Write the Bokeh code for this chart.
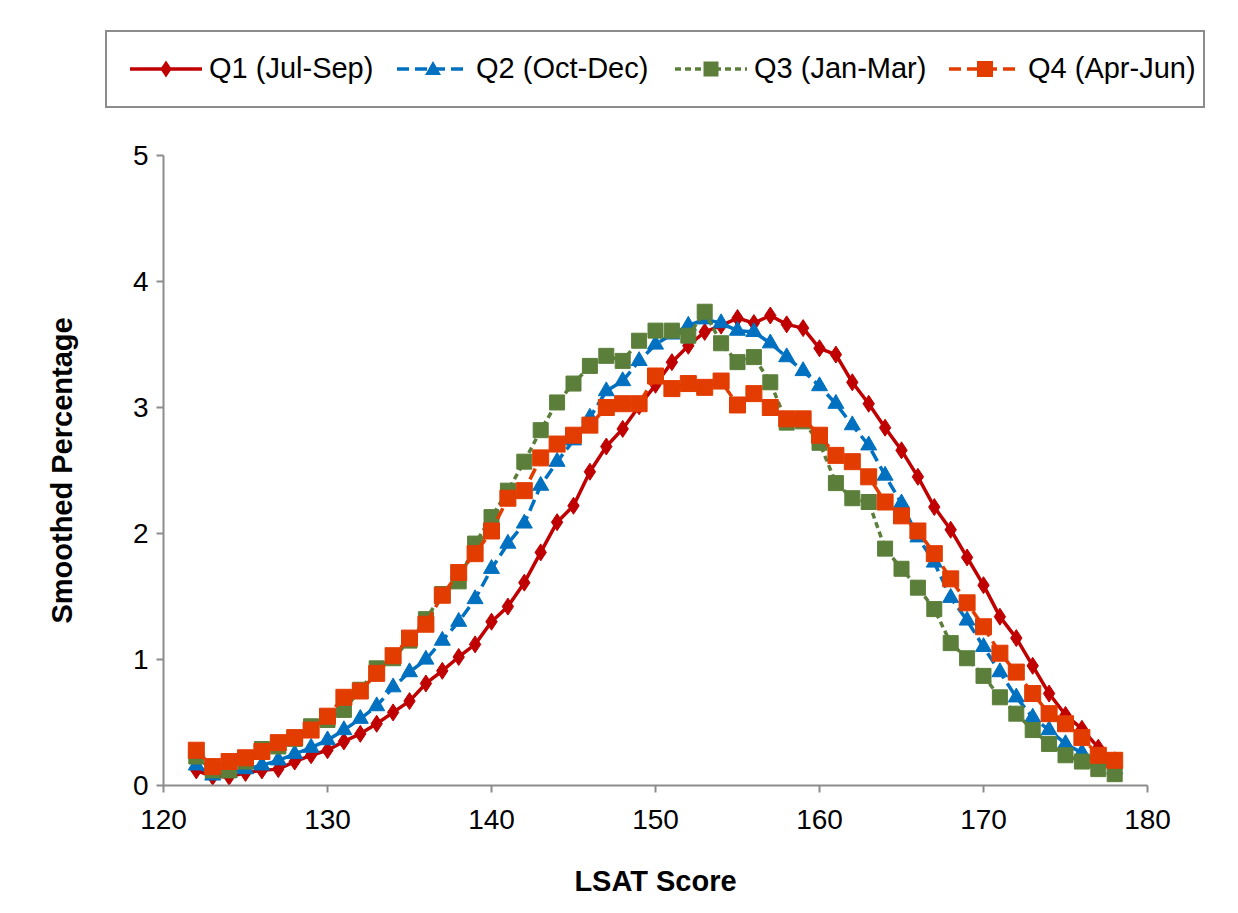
from bokeh.plotting import figure
from bokeh.layouts import column
from bokeh.models import Range1d, FixedTicker, Div
from bokeh.embed import file_html
from bokeh.resources import INLINE

scores = list(range(122, 179))

q1 = [0.12, 0.07, 0.07, 0.10, 0.12, 0.13, 0.19, 0.24, 0.28, 0.35, 0.41, 0.49, 0.58, 0.67, 0.81,
      0.91, 1.02, 1.12, 1.30, 1.42, 1.61, 1.85, 2.09, 2.22, 2.49, 2.69, 2.83, 3.01, 3.18,
      3.36, 3.49, 3.60, 3.65, 3.71, 3.67, 3.73, 3.66, 3.63, 3.47, 3.42, 3.20, 3.03, 2.84,
      2.66, 2.45, 2.21, 2.03, 1.81, 1.59, 1.34, 1.17, 0.95, 0.73, 0.56, 0.45, 0.30, 0.20]
q2 = [0.16, 0.08, 0.10, 0.13, 0.16, 0.20, 0.25, 0.30, 0.36, 0.44, 0.53, 0.63, 0.78, 0.90, 1.00,
      1.15, 1.30, 1.48, 1.72, 1.92, 2.08, 2.38, 2.57, 2.74, 2.92, 3.13, 3.21, 3.37, 3.50,
      3.58, 3.65, 3.70, 3.67, 3.61, 3.60, 3.51, 3.40, 3.29, 3.17, 3.03, 2.86, 2.70, 2.46,
      2.24, 1.97, 1.77, 1.49, 1.31, 1.10, 0.90, 0.70, 0.54, 0.44, 0.33, 0.26, 0.18, 0.13]
q3 = [0.23, 0.12, 0.12, 0.19, 0.29, 0.31, 0.37, 0.47, 0.52, 0.60, 0.76, 0.93, 1.01, 1.15, 1.32,
      1.52, 1.62, 1.92, 2.13, 2.34, 2.57, 2.82, 3.04, 3.19, 3.33, 3.41, 3.37, 3.53, 3.61,
      3.61, 3.57, 3.76, 3.51, 3.36, 3.40, 3.20, 2.88, 2.89, 2.72, 2.40, 2.28, 2.25, 1.88,
      1.72, 1.57, 1.40, 1.13, 1.01, 0.87, 0.70, 0.57, 0.44, 0.33, 0.24, 0.19, 0.13, 0.09]
q4 = [0.28, 0.15, 0.19, 0.22, 0.27, 0.34, 0.38, 0.44, 0.55, 0.70, 0.75, 0.89, 1.03, 1.17, 1.28,
      1.51, 1.69, 1.84, 2.02, 2.28, 2.34, 2.60, 2.71, 2.78, 2.86, 3.00, 3.03, 3.03, 3.25,
      3.15, 3.19, 3.16, 3.21, 3.02, 3.11, 3.00, 2.91, 2.91, 2.78, 2.62, 2.57, 2.45, 2.25,
      2.14, 2.02, 1.84, 1.64, 1.45, 1.26, 1.05, 0.90, 0.73, 0.57, 0.49, 0.38, 0.24, 0.20]

series_names = ["Q1 (Jul-Sep)", "Q2 (Oct-Dec)", "Q3 (Jan-Mar)", "Q4 (Apr-Jun)"]
x_ticks = [120, 130, 140, 150, 160, 170, 180]
y_ticks = [0, 1, 2, 3, 4, 5]

FONT = "Liberation Sans"
TOP_H = 140

specs = [
    (q1, "#c00000", "solid", "diamond", 17),
    (q2, "#0070c0", "12 6", "triangle", 16),
    (q3, "#5b7f3a", "6 4", "square", 15),
    (q4, "#e23c00", "12 6", "square", 16),
]

p = figure(width=1230, height=905 - TOP_H, output_backend="svg", toolbar_location=None,
           x_range=Range1d(120, 180), y_range=Range1d(0, 5),
           min_border_left=163, min_border_right=83, min_border_top=155 - TOP_H,
           min_border_bottom=120)
p.outline_line_color = None
p.xgrid.visible = False
p.ygrid.visible = False

for ax in (p.xaxis[0], p.yaxis[0]):
    ax.axis_line_color = "#8c8c8c"
    ax.axis_line_width = 2
    ax.major_tick_line_color = "#8c8c8c"
    ax.major_tick_line_width = 2
    ax.major_tick_out = 7
    ax.major_tick_in = 0
    ax.minor_tick_line_color = None
    ax.major_label_text_font = FONT
    ax.major_label_text_font_size = "28px"
    ax.major_label_text_color = "#000000"
    ax.axis_label_text_font = FONT
    ax.axis_label_text_font_size = "29px"
    ax.axis_label_text_font_style = "bold"
    ax.axis_label_text_color = "#000000"

p.xaxis.ticker = FixedTicker(ticks=x_ticks)
p.yaxis.ticker = FixedTicker(ticks=y_ticks)
p.xaxis.major_label_standoff = 17
p.yaxis.major_label_standoff = 8
p.xaxis.axis_label = "LSAT Score"
p.yaxis.axis_label = "Smoothed Percentage"
p.xaxis.axis_label_standoff = 33
p.yaxis.axis_label_standoff = 52

for vals, color, dash, marker, size in specs:
    p.line(scores, vals, line_color=color, line_width=3.5, line_dash=dash)
    p.scatter(scores, vals, marker=marker, size=size, fill_color=color, line_color=color)


# ---- legend box (HTML above the plot, like the spreadsheet legend) ----
def icon(color, dash, marker, size):
    da = "" if dash == "solid" else f' stroke-dasharray="{dash}"'
    c, h = 36, size / 2.0
    if marker == "diamond":
        w = size / 3.0
        shape = (f'<polygon points="{c},{12-h} {c+w},12 {c},{12+h} {c-w},12" '
                 f'fill="{color}"/>')
    elif marker == "triangle":
        shape = (f'<polygon points="{c},{12-h} {c+h},{12+h*0.75} {c-h},{12+h*0.75}" '
                 f'fill="{color}"/>')
    else:
        shape = f'<rect x="{c-h}" y="{12-h}" width="{size}" height="{size}" fill="{color}"/>'
    return (f'<svg width="72" height="24" style="display:block;overflow:visible">'
            f'<line x1="0" y1="12" x2="72" y2="12" stroke="{color}" stroke-width="3.5"{da}/>'
            f'{shape}</svg>')


glyph_left = [23, 290, 568, 842]
parts = []
for name, (vals, color, dash, marker, size), gx in zip(series_names, specs, glyph_left):
    parts.append(
        f'<div style="position:absolute;left:{gx}px;top:0;height:100%;display:flex;'
        f'align-items:center;gap:7px">{icon(color, dash, marker, size)}'
        f'<span style="font-family:\'{FONT}\';font-size:29px;color:#000;'
        f'white-space:nowrap">{name}</span></div>')

html = ('<div style="position:relative;width:1230px;height:%dpx">'
        '<div style="position:absolute;left:105px;top:30px;width:1100px;height:78px;'
        'box-sizing:border-box;border:2px solid #8c8c8c;background:#fff">%s</div></div>'
        % (TOP_H, "".join(parts)))

legend_div = Div(text=html, width=1230, height=TOP_H, margin=0)

layout = column(legend_div, p, spacing=0)
open("out.html", "w").write(file_html(layout, INLINE))
